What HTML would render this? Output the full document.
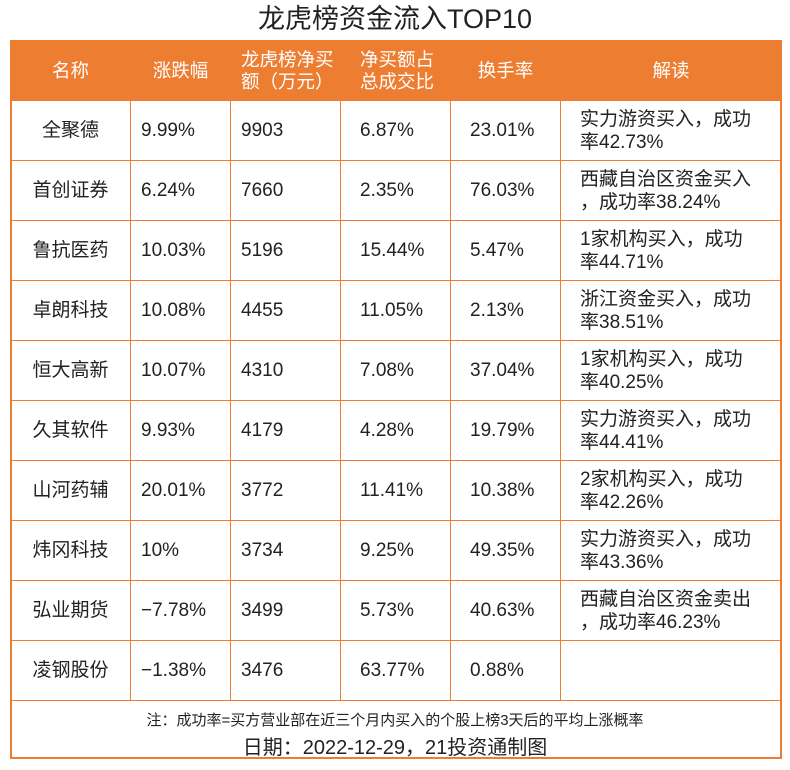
<!DOCTYPE html>
<html><head><meta charset="utf-8"><style>
body{margin:0;width:790px;height:770px;background:#fff;font-family:"Liberation Sans","Noto Sans CJK SC",sans-serif;color:#222;position:relative;overflow:hidden}
#title{position:absolute;left:0;top:2px;width:790px;text-align:center;font-size:27px;line-height:34px;color:#222}
#frame{position:absolute;left:10px;top:40px;width:768px;height:717px;border:2px solid #ED7D31;border-top:none}
table{position:absolute;left:10px;top:40px;border-collapse:collapse;table-layout:fixed;width:771px}
td,th{border:1px solid #ED7D31;height:59px;padding:0;font-weight:normal;font-size:19px;line-height:23px;vertical-align:middle;text-align:left;white-space:nowrap}
th{background:#ED7D31;color:#fff;font-size:18.5px;line-height:22px}
.c1{text-align:center}
.p10{padding-left:10px}.p20{padding-left:19px}
#note{position:absolute;left:0;top:709px;width:790px;text-align:center;font-size:15px}
#date{position:absolute;left:0;top:731px;width:790px;text-align:center;font-size:20px}
</style></head><body>
<div id="title">龙虎榜资金流入TOP10</div>
<div id="frame"></div>
<table>
<colgroup><col style="width:120px"><col style="width:100px"><col style="width:110px"><col style="width:110px"><col style="width:110px"><col style="width:221px"></colgroup>
<tr><th class="c1">名称</th><th class="c1">涨跌幅</th><th class="p10">龙虎榜净买<br>额（万元）</th><th class="p20">净买额占<br>总成交比</th><th class="c1">换手率</th><th class="c1">解读</th></tr>
<tr><td class="c1">全聚德</td><td class="p10">9.99%</td><td class="p10">9903</td><td class="p20">6.87%</td><td class="p20">23.01%</td><td class="p20">实力游资买入，成功<br>率42.73%</td></tr>
<tr><td class="c1">首创证券</td><td class="p10">6.24%</td><td class="p10">7660</td><td class="p20">2.35%</td><td class="p20">76.03%</td><td class="p20">西藏自治区资金买入<br>，成功率38.24%</td></tr>
<tr><td class="c1">鲁抗医药</td><td class="p10">10.03%</td><td class="p10">5196</td><td class="p20">15.44%</td><td class="p20">5.47%</td><td class="p20">1家机构买入，成功<br>率44.71%</td></tr>
<tr><td class="c1">卓朗科技</td><td class="p10">10.08%</td><td class="p10">4455</td><td class="p20">11.05%</td><td class="p20">2.13%</td><td class="p20">浙江资金买入，成功<br>率38.51%</td></tr>
<tr><td class="c1">恒大高新</td><td class="p10">10.07%</td><td class="p10">4310</td><td class="p20">7.08%</td><td class="p20">37.04%</td><td class="p20">1家机构买入，成功<br>率40.25%</td></tr>
<tr><td class="c1">久其软件</td><td class="p10">9.93%</td><td class="p10">4179</td><td class="p20">4.28%</td><td class="p20">19.79%</td><td class="p20">实力游资买入，成功<br>率44.41%</td></tr>
<tr><td class="c1">山河药辅</td><td class="p10">20.01%</td><td class="p10">3772</td><td class="p20">11.41%</td><td class="p20">10.38%</td><td class="p20">2家机构买入，成功<br>率42.26%</td></tr>
<tr><td class="c1">炜冈科技</td><td class="p10">10%</td><td class="p10">3734</td><td class="p20">9.25%</td><td class="p20">49.35%</td><td class="p20">实力游资买入，成功<br>率43.36%</td></tr>
<tr><td class="c1">弘业期货</td><td class="p10">−7.78%</td><td class="p10">3499</td><td class="p20">5.73%</td><td class="p20">40.63%</td><td class="p20">西藏自治区资金卖出<br>，成功率46.23%</td></tr>
<tr><td class="c1">凌钢股份</td><td class="p10">−1.38%</td><td class="p10">3476</td><td class="p20">63.77%</td><td class="p20">0.88%</td><td class="p20"></td></tr>
</table>
<div id="note">注：成功率=买方营业部在近三个月内买入的个股上榜3天后的平均上涨概率</div>
<div id="date">日期：2022-12-29，21投资通制图</div>
</body></html>
